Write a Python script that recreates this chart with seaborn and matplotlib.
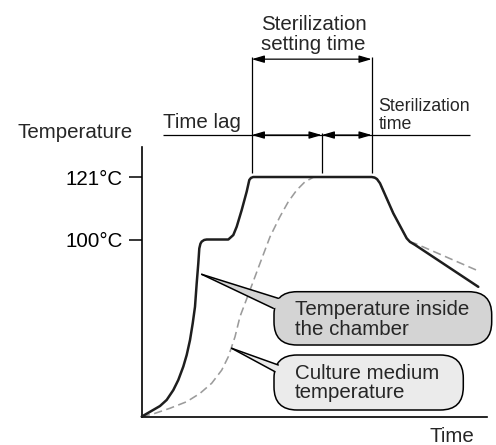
import matplotlib
matplotlib.use("Agg")
import numpy as np
import pandas as pd
import matplotlib.pyplot as plt
from matplotlib import font_manager
from matplotlib.patches import FancyBboxPatch, Polygon
import seaborn as sns

# Temperature inside the autoclave chamber (time in minutes, temperature in °C)
chamber_time = [0, 1.66, 3.66, 5.0, 6.32, 7.32, 8.32, 9.0, 9.66, 10.2, 10.66,
                11.0, 11.32, 11.52, 11.75, 12.0, 12.5, 13.0, 17.32, 18.32, 19.0,
                20.0, 21.0, 21.52, 21.85, 22.3, 46.0, 46.6, 47.06, 47.66, 50.32,
                53.0, 53.66, 54.66, 67.32]
chamber_temp = [40.5, 42.1, 44.05, 46.1, 49.4, 52.8, 57.3, 61.2, 66.2, 71.8, 77.4,
                85.3, 92.0, 97.0, 98.6, 99.3, 99.85, 100.0, 100.0, 101.5, 104.3,
                109.9, 116.1, 120.0, 120.7, 121.0, 121.0, 120.8, 120.3, 118.9, 108.8,
                100.4, 99.2, 98.2, 84.1]

# Temperature of the culture medium
medium_time = [0, 2.32, 5.66, 9.0, 11.66, 14.0, 16.0, 17.32, 18.66, 19.66, 21.66,
               23.66, 25.66, 27.66, 29.32, 31.0, 32.66, 34.32, 36.0, 46.0, 46.6,
               47.06, 47.66, 50.32, 53.0, 53.66, 54.66, 67.66]
medium_temp = [40.5, 41.4, 43.3, 45.5, 48.3, 51.7, 56.1, 60.6, 67.3, 74.1, 83.0,
               92.0, 100.9, 107.7, 112.7, 116.6, 119.4, 120.9, 121.0, 121.0, 120.8,
               120.3, 118.9, 108.8, 100.4, 99.2, 98.7, 89.2]

ytick_values = [100, 121]
ytick_labels = ["100°C", "121°C"]

# Process milestones (minutes)
t_chamber_at_121 = 22
t_medium_at_121 = 36
t_hold_end = 46

axis_floor = 40.5
axis_top = 131.1
axis_right = 69.06

sns.set_theme(style="white")
plt.rcParams["font.family"] = ["Liberation Sans", "DejaVu Sans"]
FS = 14.8

try:
    font_manager.findfont("Liberation Sans Narrow", fallback_to_default=False)
    narrow = dict(family=["Liberation Sans Narrow", "DejaVu Sans"], fontsize=15.2)
except ValueError:
    narrow = dict(family=["Liberation Sans", "DejaVu Sans"], fontsize=12.8)

fig = plt.figure(figsize=(4.96, 4.45), dpi=100)
ax = fig.add_axes([0, 0, 1, 1])

chamber = pd.DataFrame({"time": chamber_time, "temp": chamber_temp})
medium = pd.DataFrame({"time": medium_time, "temp": medium_temp})

sns.lineplot(data=medium, x="time", y="temp", ax=ax, estimator=None, sort=False,
             color="#9b9b9b", lw=1.15, linestyle=(0, (5.2, 2.8)), zorder=2)
sns.lineplot(data=chamber, x="time", y="temp", ax=ax, estimator=None, sort=False,
             color="#1e1e1e", lw=1.8, solid_joinstyle="round",
             solid_capstyle="round", zorder=3)

ax.set_xlim(-28.34, 70.86)
ax.set_ylim(30.95, 180.48)
ax.set_xlabel("")
ax.set_ylabel("")
ax.grid(False)

for side in ("top", "right"):
    ax.spines[side].set_visible(False)
ax.spines["left"].set_position(("data", 0))
ax.spines["bottom"].set_position(("data", axis_floor))
ax.spines["left"].set_bounds(axis_floor, axis_top)
ax.spines["bottom"].set_bounds(0, axis_right)
for side in ("left", "bottom"):
    ax.spines[side].set_color("black")
    ax.spines[side].set_linewidth(1.2)

ax.set_xticks([])
ax.set_yticks(ytick_values, ytick_labels)
ax.tick_params(axis="y", left=True, direction="out", length=9.6, width=1.1,
               pad=3.8, labelsize=FS, colors="black")

# Axis titles
ax.text(-24.94, 134.0, "Temperature", fontsize=FS, ha="left", va="baseline")
ax.text(57.66, 32.06, "Time", fontsize=FS, ha="left", va="baseline")

# Milestone markers and spans
line_kw = dict(color="black", lw=0.9, solid_capstyle="butt")
ax.plot([t_chamber_at_121] * 2, [122.2, 161.4], **line_kw)
ax.plot([t_medium_at_121] * 2, [122.2, 135.7], **line_kw)
ax.plot([t_hold_end] * 2, [122.2, 161.4], **line_kw)
ax.plot([4.26, 65.7], [135.1, 135.1], **line_kw)

arrow_kw = dict(arrowstyle="<|-|>,head_length=0.75,head_width=0.22",
                mutation_scale=10, color="black", lw=0.9, shrinkA=0, shrinkB=0)
ax.annotate("", xy=(t_medium_at_121, 135.1), xytext=(t_chamber_at_121, 135.1),
            arrowprops=arrow_kw)
ax.annotate("", xy=(t_hold_end, 135.1), xytext=(t_medium_at_121, 135.1),
            arrowprops=arrow_kw)
ax.annotate("", xy=(t_hold_end, 160.6), xytext=(t_chamber_at_121, 160.6),
            arrowprops=arrow_kw)

# Multi-line labels are anchored on the baseline of their last line
ax.text(34.36, 163.7, "Sterilization\nsetting time", fontsize=FS, ha="center",
        va="baseline", linespacing=1.05, multialignment="center")
ax.text(4.26, 137.4, "Time lag", fontsize=FS, ha="left", va="baseline")
ax.text(47.32, 137.1, "Sterilization\ntime", ha="left", va="baseline",
        linespacing=1.05, **narrow)

# Callout bubbles
fig.canvas.draw()
p0 = ax.transData.transform((0, 0))
px_x = ax.transData.transform((1, 0))[0] - p0[0]
px_y = ax.transData.transform((0, 1))[1] - p0[1]
aspect = px_x / px_y


def callout(x0, x1, y0, y1, apex, base_hi, base_lo, fc, text, tx, ty):
    box = FancyBboxPatch((x0, y0), x1 - x0, y1 - y0,
                         boxstyle="round,pad=0,rounding_size=4.6",
                         mutation_aspect=aspect, fc=fc, ec="black", lw=1.1,
                         zorder=5)
    ax.add_patch(box)
    inner = (base_hi[0] + 3.5, (base_hi[1] + base_lo[1]) / 2)
    ax.add_patch(Polygon([apex, base_hi, inner, base_lo], closed=True, fc=fc,
                         ec="none", zorder=6))
    ax.plot([apex[0], base_hi[0]], [apex[1], base_hi[1]], color="black", lw=1.1,
            zorder=7, solid_capstyle="round")
    ax.plot([apex[0], base_lo[0]], [apex[1], base_lo[1]], color="black", lw=1.1,
            zorder=7, solid_capstyle="round")
    ax.text(tx, ty, text, fontsize=FS, ha="left", va="baseline",
            linespacing=1.05, zorder=8)


callout(26.46, 70.0, 64.55, 82.46, (12.0, 88.3), (27.32, 80.24), (26.32, 76.88),
        "#d4d4d4", "Temperature inside\nthe chamber", 30.66, 67.9)
callout(26.46, 64.32, 42.71, 61.19, (18.0, 63.44), (27.32, 57.83), (26.66, 55.58),
        "#ebebeb", "Culture medium\ntemperature", 30.66, 46.6)

fig.savefig("out.png", dpi=100)
